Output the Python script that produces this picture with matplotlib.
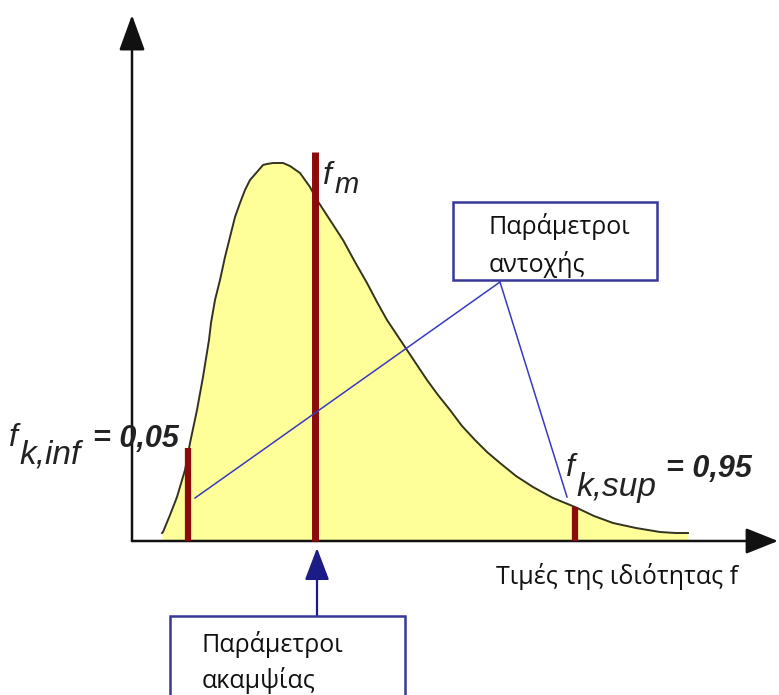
import numpy as np
import matplotlib.pyplot as plt
from matplotlib.patches import Rectangle

# shape of the skewed distribution (pixel units, y down)
curve_x = [162, 163, 170, 177, 185, 190, 197, 203, 209, 211, 215, 220, 225, 230,
           235, 240, 245, 250, 257, 263, 267, 273, 283, 290, 300, 310, 317, 330,
           343, 355, 367, 377, 387, 397, 407, 417, 427, 438, 450, 462, 475, 487,
           500, 516, 533, 553, 575, 594, 613, 636, 660, 675, 688]
curve_y = [533, 532, 515, 497, 470, 443, 410, 377, 340, 323, 300, 280, 257, 237,
           217, 203, 190, 180, 172, 165, 164, 163, 163, 166, 173, 187, 200, 220,
           240, 262, 283, 302, 320, 335, 350, 365, 380, 395, 410, 426, 440, 452,
           463, 476, 487, 498, 507, 516, 523, 528, 532, 533, 533]

axis_y = 541          # baseline (x axis)
axis_x = 132          # y axis
f_inf_x = 188
f_inf_top = 448
f_m_x = 315
f_m_top = 152
f_sup_x = 575

box_strength = (453, 202, 657, 280)     # x0, y0, x1, y1
box_stiff = (170, 616, 405, 700)
strength_anchor = (500, 282)
strength_ends = [(195, 498), (567, 497)]

red = "#8b0a0a"
blue = "#3a3ac0"
navy = "#1c1c86"

fig = plt.figure(figsize=(7.79, 6.95), dpi=100)
ax = fig.add_axes([0, 0, 1, 1])
ax.set_xlim(0, 779)
ax.set_ylim(695, 0)
ax.axis("off")

# filled curve
ax.fill_between(curve_x, curve_y, axis_y, color="#ffff99", lw=0, zorder=1)
ax.plot(curve_x, curve_y, color="#333322", lw=1.4, zorder=2)

# axes with arrows
ax.annotate("", xy=(axis_x, 15), xytext=(axis_x, axis_y),
            arrowprops=dict(arrowstyle="-|>,head_length=1.1,head_width=0.4",
                            mutation_scale=20, color="#111111", lw=1.8,
                            shrinkA=0, shrinkB=0), zorder=3)
ax.annotate("", xy=(778, axis_y), xytext=(axis_x, axis_y),
            arrowprops=dict(arrowstyle="-|>,head_length=1.0,head_width=0.4",
                            mutation_scale=20, color="#111111", lw=1.8,
                            shrinkA=0, shrinkB=0), zorder=3)

# quantile lines
y_sup = np.interp(f_sup_x, curve_x, curve_y)
ax.plot([f_inf_x, f_inf_x], [axis_y, f_inf_top], color=red, lw=4.5, zorder=4,
        solid_capstyle="butt")
ax.plot([f_m_x, f_m_x], [axis_y, f_m_top], color=red, lw=5, zorder=4,
        solid_capstyle="butt")
ax.plot([f_sup_x, f_sup_x], [axis_y, y_sup], color=red, lw=4.5, zorder=4,
        solid_capstyle="butt")

# strength box and leaders
for ex, ey in strength_ends:
    ax.plot([strength_anchor[0], ex], [strength_anchor[1], ey], color=blue,
            lw=1.1, zorder=5)
x0, y0, x1, y1 = box_strength
ax.add_patch(Rectangle((x0, y0), x1 - x0, y1 - y0, fill=True, fc="white",
                       ec="#38389a", lw=1.8, zorder=6))
ax.text(489, 227, "Παράμετροι", fontsize=18, family="Open Sans",
        va="center", ha="left", color="#111111", zorder=7)
ax.text(489, 264, "αντοχής", fontsize=18, family="Open Sans",
        va="center", ha="left", color="#111111", zorder=7)

# stiffness box and arrow
x0, y0, x1, y1 = box_stiff
ax.add_patch(Rectangle((x0, y0), x1 - x0, y1 - y0, fill=True, fc="white",
                       ec="#38389a", lw=1.8, zorder=6))
ax.annotate("", xy=(f_m_x + 2, 548), xytext=(f_m_x + 2, y0),
            arrowprops=dict(arrowstyle="-|>,head_length=1.0,head_width=0.38",
                            mutation_scale=20, color=navy, lw=1.6,
                            shrinkA=0, shrinkB=0), zorder=5)
ax.text(202, 644, "Παράμετροι", fontsize=18, family="Open Sans",
        va="center", ha="left", color="#111111", zorder=7)
ax.text(202, 680, "ακαμψίας", fontsize=18, family="Open Sans",
        va="center", ha="left", color="#111111", zorder=7)

# axis label
ax.text(496, 577, "Τιμές της ιδιότητας f", fontsize=18, family="Open Sans",
        va="center", ha="left", color="#111111")

# value labels
lab = dict(family="Liberation Sans", style="italic", color="#222222")
ax.text(323, 184, "f", fontsize=23, va="baseline", **lab)
ax.text(335, 193, "m", fontsize=21, va="baseline", **lab)

ax.text(9, 446, "f", fontsize=23, va="baseline", **lab)
ax.text(19, 464, "k,inf", fontsize=24, va="baseline", **lab)
ax.text(93, 447, "= 0,05", fontsize=22, va="baseline", weight="bold", **lab)

ax.text(566, 476, "f", fontsize=23, va="baseline", **lab)
ax.text(576, 496, "k,sup", fontsize=24, va="baseline", **lab)
ax.text(666, 477, "= 0,95", fontsize=22, va="baseline", weight="bold", **lab)

plt.savefig("out.png", dpi=100)
